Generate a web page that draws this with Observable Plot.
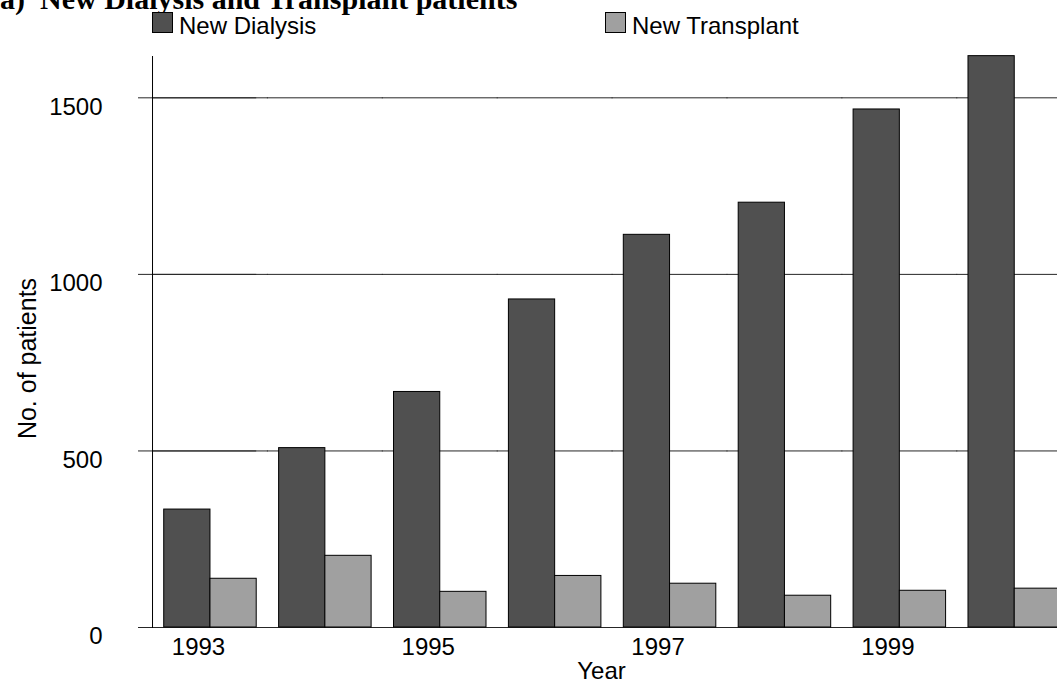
<!DOCTYPE html>
<html>
<head>
<meta charset="utf-8">
<script src="https://cdn.jsdelivr.net/npm/d3@7"></script>
<script src="https://cdn.jsdelivr.net/npm/@observablehq/plot@0.6"></script>
<style>
html, body { margin: 0; padding: 0; background: #fff; overflow: hidden; width: 1057px; height: 680px; }
#header { position: relative; width: 1057px; height: 40px; overflow: hidden; }
.t { position: absolute; font-family: "Liberation Serif", "Times New Roman", serif; font-weight: bold; font-size: 30px; line-height: 30px; white-space: nowrap; top: -16px; color: #000; }
.lg { position: absolute; font-family: "Liberation Sans", Arial, sans-serif; font-size: 24px; line-height: 24px; top: 14px; white-space: nowrap; color: #000; }
.sw { position: absolute; width: 19px; height: 19px; border: 1px solid #000; top: 12px; box-sizing: content-box; }
#chart svg { display: block; }
</style>
</head>
<body>
<div id="header"></div>
<div id="chart"></div>
<script>
// ---- data ----
const titlePrefix = "(a)";
const titleText = "New Dialysis and Transplant patients";
const years = ["1993", "1994", "1995", "1996", "1997", "1998", "1999", "2000"];
const newDialysis = [334, 508, 667, 929, 1112, 1203, 1467, 1618];
const newTransplant = [138, 203, 101, 146, 124, 90, 104, 110];
const seriesNames = ["New Dialysis", "New Transplant"];
const seriesColors = ["#505050", "#a0a0a0"];
const yTicks = [0, 500, 1000, 1500];
const xTickLabels = ["1993", "1995", "1997", "1999"];
const xLabel = "Year";
const yLabel = "No. of patients";

// ---- header (title + legend) ----
const header = document.getElementById("header");
const legendSwatchX = [152, 605];
header.innerHTML =
  `<span class="t" style="left:-10px">${titlePrefix}</span>` +
  `<span class="t" style="left:40px">${titleText}</span>` +
  seriesNames.map((s, i) =>
    `<div class="sw" style="left:${legendSwatchX[i]}px;background:${seriesColors[i]}"></div>` +
    `<span class="lg" style="left:${legendSwatchX[i] + 27}px">${s}</span>`).join("");

// ---- chart ----
const rows = years.flatMap((y, i) => [
  {year: y, series: seriesNames[0], value: newDialysis[i]},
  {year: y, series: seriesNames[1], value: newTransplant[i]}
]);

const chart = Plot.plot({
  width: 1057,
  height: 640,
  marginTop: 16,
  marginBottom: 53,
  marginLeft: 152,
  marginRight: -15.2,
  style: {fontFamily: "'Liberation Sans', Arial, sans-serif", fontSize: "24px", color: "#000", background: "#fff", overflow: "hidden"},
  fx: {domain: years, paddingInner: 0.195, paddingOuter: 0.102, round: false, label: null, axis: null},
  x: {domain: seriesNames, padding: 0, round: false, axis: null},
  y: {domain: [0, 1617], label: null},
  color: {domain: seriesNames, range: seriesColors},
  marks: [
    Plot.ruleY(yTicks, {stroke: "#262626", insetLeft: -11.7, insetRight: -11.7}),
    Plot.ruleY(yTicks, {facetAnchor: "left", stroke: "#262626", insetLeft: -25.7}),
    Plot.frame({anchor: "left", facetAnchor: "left", insetLeft: -11.7, stroke: "#000"}),
    Plot.barY(rows, {fx: "year", x: "series", y: "value", fill: "series", stroke: "#000", strokeWidth: 1}),
    Plot.axisY(yTicks, {anchor: "left", tickSize: 0, tickPadding: 50, dx: -11.7, dy: 9, label: null, fontSize: 24, tickFormat: d => String(d)}),
    Plot.text(xTickLabels, {fx: d => d, text: d => d, frameAnchor: "bottom", lineAnchor: "top", dx: -12, dy: 10, fontSize: 24}),
    Plot.text([yLabel], {text: d => d, facetAnchor: "left", frameAnchor: "left", rotate: -90, dx: -136.4, dy: 16.5, fontSize: 25, textAnchor: "middle"}),
    Plot.text([xLabel], {text: d => d, facetAnchor: "left", frameAnchor: "bottom-left", textAnchor: "middle", lineAnchor: "top", dx: 437.3, dy: 34, fontSize: 24})
  ]
});
document.getElementById("chart").appendChild(chart);
</script>
</body>
</html>
